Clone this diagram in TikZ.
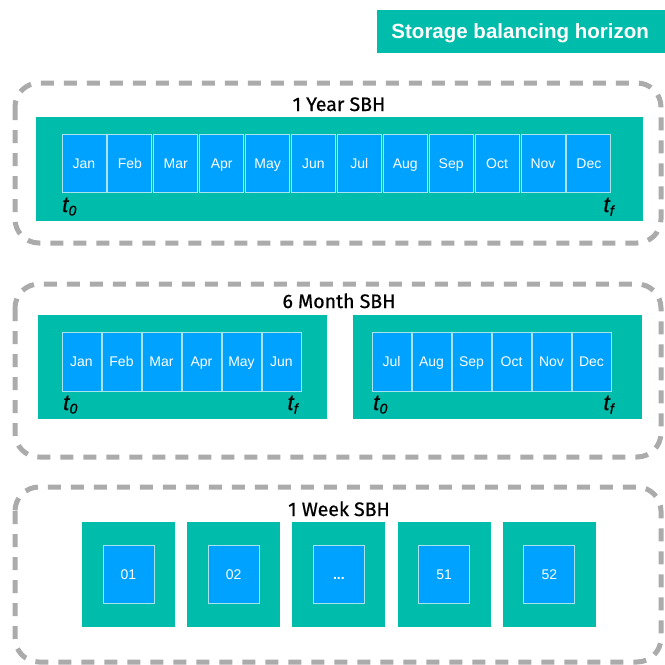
\documentclass[tikz,border=0pt]{standalone}
\usepackage{fontspec}
\setmainfont{Liberation Sans}
\newfontfamily\titlefont[FakeBold=0.7]{Fira Sans}
\newfontfamily\tfont[FakeBold=0.6]{Liberation Sans}
\definecolor{tealc}{HTML}{00BCAB}
\definecolor{mblue}{HTML}{00A2FF}
\definecolor{edgec}{HTML}{A6E4EE}
\definecolor{dgray}{HTML}{ABABAB}
\newcommand{\tlab}[1]{{\tfont\fontsize{22}{22}\selectfont\itshape t\kern0.3pt\raisebox{-3.5pt}{\fontsize{14}{14}\selectfont #1}}}
\begin{document}
\begin{tikzpicture}[x=1pt,y=-1pt,
  horizon/.style={draw=dgray, line width=5pt, dash pattern=on 13pt off 10pt, rounded corners=24pt},
  band/.style={fill=tealc, draw=none},
  cell/.style={rectangle, fill=mblue, draw=edgec, line width=1pt, text=white, font=\fontsize{14}{14}\selectfont, inner sep=0pt, text height=10pt, text depth=0pt, anchor=center},
  sbh/.style={font=\titlefont\fontsize{19.5}{20}\selectfont, text=black, anchor=center, inner sep=0pt, text height=14pt, text depth=0pt},
  tl/.style={inner sep=0pt, text=black}]
\useasboundingbox (0,0) rectangle (665,665);

% legend box
\node[band, minimum width=290pt, minimum height=43pt, anchor=north west, inner sep=0pt,
  text=white, text height=14.5pt, text depth=0pt, font=\bfseries\fontsize{20.5}{21}\selectfont] (legend) at (377,10) {\hspace*{-4pt}Storage balancing horizon};

% dashed horizons
\draw[horizon] (15,83) rectangle (661,243);
\draw[horizon] (15,284) rectangle (661,457);
\draw[horizon] (15,487) rectangle (661,662);

\node[sbh] (title1) at (339,104) {1 Year SBH};
\node[sbh] (title2) at (339,301) {6 Month SBH};
\node[sbh] (title3) at (339,509) {1 Week SBH};

% 1 year
\fill[band] (36,117) rectangle (643,221);
\foreach \m [count=\i from 0] in {Jan,Feb,Mar,Apr,May,Jun,Jul,Aug,Sep,Oct,Nov,Dec}{
  \node[cell, minimum width=44pt, minimum height=58pt] (y\i) at ({84+\i*45.9},163) {\m};
}
\node[tl, anchor=base west] (y0t) at (62,212) {\tlab{0}};
\node[tl, anchor=base east] (yft) at (614,212) {\tlab{f}};

% 6 months
\fill[band] (38,315) rectangle (327,419);
\fill[band] (353,315) rectangle (642,419);
\foreach \m [count=\i from 0] in {Jan,Feb,Mar,Apr,May,Jun}{
  \node[cell, minimum width=39pt, minimum height=59pt] (a\i) at ({81.5+\i*40},361.5) {\m};
}
\foreach \m [count=\i from 0] in {Jul,Aug,Sep,Oct,Nov,Dec}{
  \node[cell, minimum width=39pt, minimum height=59pt] (b\i) at ({391.5+\i*40},361.5) {\m};
}
\node[tl, anchor=base west] (a0t) at (63,410) {\tlab{0}};
\node[tl, anchor=base east] (aft) at (298,410) {\tlab{f}};
\node[tl, anchor=base west] (b0t) at (373,410) {\tlab{0}};
\node[tl, anchor=base east] (bft) at (614,410) {\tlab{f}};

% 1 week
\foreach \w [count=\i from 0] in {01,02,{\textbf{...}},51,52}{
  \fill[band] ({82+\i*105.2},522) rectangle ({175+\i*105.2},627);
  \node[cell, minimum width=51pt, minimum height=58pt] (w\i) at ({128.5+\i*105.2},574) {\w};
}
\end{tikzpicture}
\end{document}
